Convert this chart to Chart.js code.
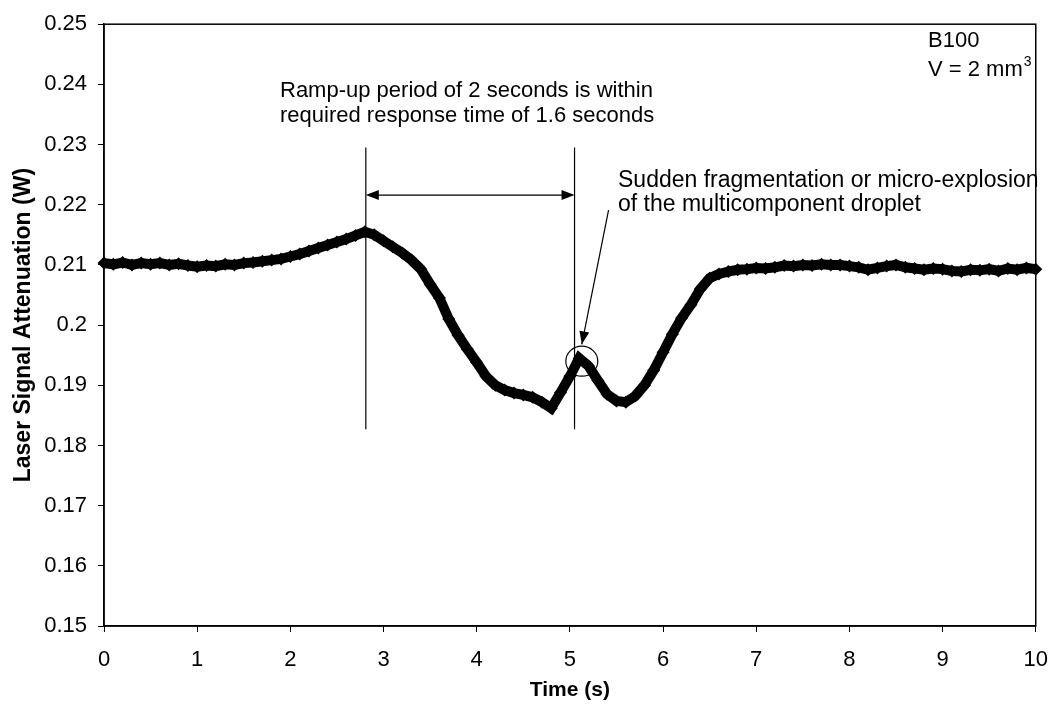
<!DOCTYPE html>
<html>
<head>
<meta charset="utf-8">
<script src="https://cdn.jsdelivr.net/npm/chart.js@4.4.1/dist/chart.umd.min.js"></script>
<style>
    body { margin: 0; background: #fff; }
    #wrap { width: 1063px; height: 716px; }
</style>
</head>
<body>
<div id="wrap"><canvas id="laser-chart" width="1063" height="716"></canvas></div>
<script>
/* global Chart:false */

// time axis (s)
var timeSec = [
    0.0, 0.1, 0.2, 0.3, 0.4, 0.5, 0.6, 0.7, 0.8, 0.9,
    1.0, 1.1, 1.2, 1.3, 1.4, 1.5, 1.6, 1.7, 1.8, 1.9,
    2.0, 2.1, 2.2, 2.3, 2.4, 2.5, 2.6, 2.7, 2.8, 2.9,
    3.0, 3.1, 3.2, 3.3, 3.4, 3.5, 3.6, 3.7, 3.8, 3.9,
    4.0, 4.1, 4.2, 4.3, 4.4, 4.5, 4.6, 4.7, 4.8, 4.9,
    5.0, 5.1, 5.2, 5.3, 5.4, 5.5, 5.6, 5.7, 5.8, 5.9,
    6.0, 6.1, 6.2, 6.3, 6.4, 6.5, 6.6, 6.7, 6.8, 6.9,
    7.0, 7.1, 7.2, 7.3, 7.4, 7.5, 7.6, 7.7, 7.8, 7.9,
    8.0, 8.1, 8.2, 8.3, 8.4, 8.5, 8.6, 8.7, 8.8, 8.9,
    9.0, 9.1, 9.2, 9.3, 9.4, 9.5, 9.6, 9.7, 9.8, 9.9,
    10.0
];

// laser signal attenuation (W)
var attenuationW = [
    0.2103, 0.2101, 0.2104, 0.2100, 0.2103, 0.2101, 0.2103, 0.2100, 0.2102, 0.2099,
    0.2097, 0.2099, 0.2098, 0.2101, 0.2100, 0.2103, 0.2104, 0.2106, 0.2108, 0.2110,
    0.2114, 0.2118, 0.2123, 0.2128, 0.2133, 0.2138, 0.2143, 0.2149, 0.2155, 0.2150,
    0.2140, 0.2130, 0.2120, 0.2108, 0.2093, 0.2068, 0.2045, 0.2010, 0.1983, 0.1960,
    0.1938, 0.1915, 0.1900, 0.1892, 0.1887, 0.1884, 0.1880, 0.1872, 0.1862, 0.1888,
    0.1915, 0.1945, 0.1932, 0.1908, 0.1885, 0.1874, 0.1872, 0.1882, 0.1900, 0.1925,
    0.1955, 0.1985, 0.2012, 0.2034, 0.2060, 0.2078, 0.2085, 0.2089, 0.2092, 0.2093,
    0.2095, 0.2094, 0.2096, 0.2099, 0.2098, 0.2100, 0.2099, 0.2101, 0.2100, 0.2100,
    0.2098, 0.2096, 0.2092, 0.2095, 0.2098, 0.2100, 0.2096, 0.2094, 0.2092, 0.2094,
    0.2093, 0.2090, 0.2089, 0.2092, 0.2091, 0.2093, 0.2090, 0.2094, 0.2092, 0.2095,
    0.2093
];

var xTicks = [0, 1, 2, 3, 4, 5, 6, 7, 8, 9, 10];
var yTicks = [0.15, 0.16, 0.17, 0.18, 0.19, 0.2, 0.21, 0.22, 0.23, 0.24, 0.25];

var points = timeSec.map(function (t, i) {
    return { x: t, y: attenuationW[i] };
});

function arrowHead(ctx, x0, y0, x1, y1, len, half) {
    var a = Math.atan2(y1 - y0, x1 - x0);
    ctx.beginPath();
    ctx.moveTo(x1, y1);
    ctx.lineTo(x1 - len * Math.cos(a) + half * Math.sin(a), y1 - len * Math.sin(a) - half * Math.cos(a));
    ctx.lineTo(x1 - len * Math.cos(a) - half * Math.sin(a), y1 - len * Math.sin(a) + half * Math.cos(a));
    ctx.closePath();
    ctx.fill();
}

// box round the plot area
var framePlugin = {
    id: 'frame',
    beforeDatasetsDraw: function (chart) {
        var a = chart.chartArea;
        var ctx = chart.ctx;
        ctx.save();
        ctx.strokeStyle = '#000';
        ctx.lineWidth = 1.5;
        ctx.strokeRect(a.left, a.top, a.right - a.left, a.bottom - a.top);
        ctx.restore();
    }
};

// notes, markers and arrows
var notesPlugin = {
    id: 'notes',
    afterDatasetsDraw: function (chart) {
        var ctx = chart.ctx;
        var xs = chart.scales.x;
        var ys = chart.scales.y;
        var px = function (v) { return xs.getPixelForValue(v); };
        var py = function (v) { return ys.getPixelForValue(v); };

        ctx.save();
        ctx.strokeStyle = '#000';
        ctx.fillStyle = '#000';
        ctx.lineWidth = 1.2;

        // ramp-up limits
        [2.81, 5.05].forEach(function (t) {
            ctx.beginPath();
            ctx.moveTo(px(t), py(0.2295));
            ctx.lineTo(px(t), py(0.1827));
            ctx.stroke();
        });

        // double arrow
        var ay = py(0.2216);
        var ax0 = px(2.81), ax1 = px(5.05);
        ctx.beginPath();
        ctx.moveTo(ax0 + 8, ay);
        ctx.lineTo(ax1 - 8, ay);
        ctx.stroke();
        arrowHead(ctx, ax1, ay, ax0, ay, 13, 5);
        arrowHead(ctx, ax0, ay, ax1, ay, 13, 5);

        // circle round the fragmentation peak
        ctx.beginPath();
        ctx.ellipse(px(5.128), py(0.1940), 16, 15, 0, 0, Math.PI * 2);
        ctx.stroke();

        // arrow to the peak
        var sx = px(5.415), sy = py(0.2191);
        var ex = px(5.128), ey = py(0.1968);
        ctx.beginPath();
        ctx.moveTo(sx, sy);
        ctx.lineTo(ex, ey);
        ctx.stroke();
        arrowHead(ctx, sx, sy, ex, ey, 13, 5);

        // texts
        ctx.textAlign = 'left';
        ctx.textBaseline = 'alphabetic';
        ctx.font = '22px Arial, "Liberation Sans", sans-serif';
        ctx.fillText('Ramp-up period of 2 seconds is within', 280, 97);
        ctx.fillText('required response time of 1.6 seconds', 280, 122);
        ctx.font = '23px Arial, "Liberation Sans", sans-serif';
        ctx.fillText('Sudden fragmentation or micro-explosion', 618, 187);
        ctx.fillText('of the multicomponent droplet', 618, 211);

        ctx.font = '22px Arial, "Liberation Sans", sans-serif';
        ctx.fillText('B100', 928, 47);
        var vText = 'V = 2 mm';
        ctx.fillText(vText, 928, 76);
        var w = ctx.measureText(vText).width;
        ctx.font = '14px Arial, "Liberation Sans", sans-serif';
        ctx.fillText('3', 928 + w + 1, 66);
        ctx.restore();
    }
};

var tickFont = { family: 'Arial, "Liberation Sans", sans-serif', size: 22 };

new Chart(document.getElementById('laser-chart'), {
    type: 'scatter',
    data: {
        datasets: [
            {
                data: points,
                showLine: true,
                borderColor: '#000',
                backgroundColor: '#000',
                borderWidth: 10,
                pointStyle: 'rectRot',
                pointRadius: 6.5,
                pointBorderWidth: 0,
                tension: 0,
                clip: false,
            },
        ],
    },
    options: {
        responsive: false,
        animation: false,
        layout: {
            padding: { top: 21, right: 20, bottom: 0, left: 0 },
        },
        plugins: {
            legend: { display: false },
            tooltip: { enabled: false },
        },
        scales: {
            x: {
                type: 'linear',
                min: 0,
                max: 10,
                afterBuildTicks: function (scale) {
                    scale.ticks = xTicks.map(function (v) { return { value: v }; });
                },
                afterFit: function (scale) { scale.height = 90; },
                ticks: {
                    color: '#000',
                    font: tickFont,
                    padding: 15,
                    maxRotation: 0,
                },
                grid: {
                    display: true,
                    drawOnChartArea: false,
                    tickLength: 6,
                    color: '#000',
                },
                border: { display: true, color: '#000', width: 1.5 },
                title: {
                    display: true,
                    text: 'Time (s)',
                    color: '#000',
                    font: { family: 'Arial, "Liberation Sans", sans-serif', size: 21, weight: 'bold' },
                    padding: { top: 0, bottom: 13 },
                },
            },
            y: {
                type: 'linear',
                min: 0.15,
                max: 0.25,
                afterBuildTicks: function (scale) {
                    scale.ticks = yTicks.map(function (v) { return { value: v }; });
                },
                afterFit: function (scale) { scale.width = 104; },
                ticks: {
                    color: '#000',
                    font: tickFont,
                    padding: 11,
                    callback: function (v) { return String(Number(v.toFixed(2))); },
                },
                grid: {
                    display: true,
                    drawOnChartArea: false,
                    tickLength: 6,
                    color: '#000',
                },
                border: { display: true, color: '#000', width: 1.5 },
                title: {
                    display: true,
                    text: 'Laser Signal Attenuation (W)',
                    color: '#000',
                    font: { family: 'Arial, "Liberation Sans", sans-serif', size: 23, weight: 'bold' },
                    padding: { top: 10, bottom: 0 },
                },
            },
        },
    },
    plugins: [framePlugin, notesPlugin],
});
</script>
</body>
</html>
